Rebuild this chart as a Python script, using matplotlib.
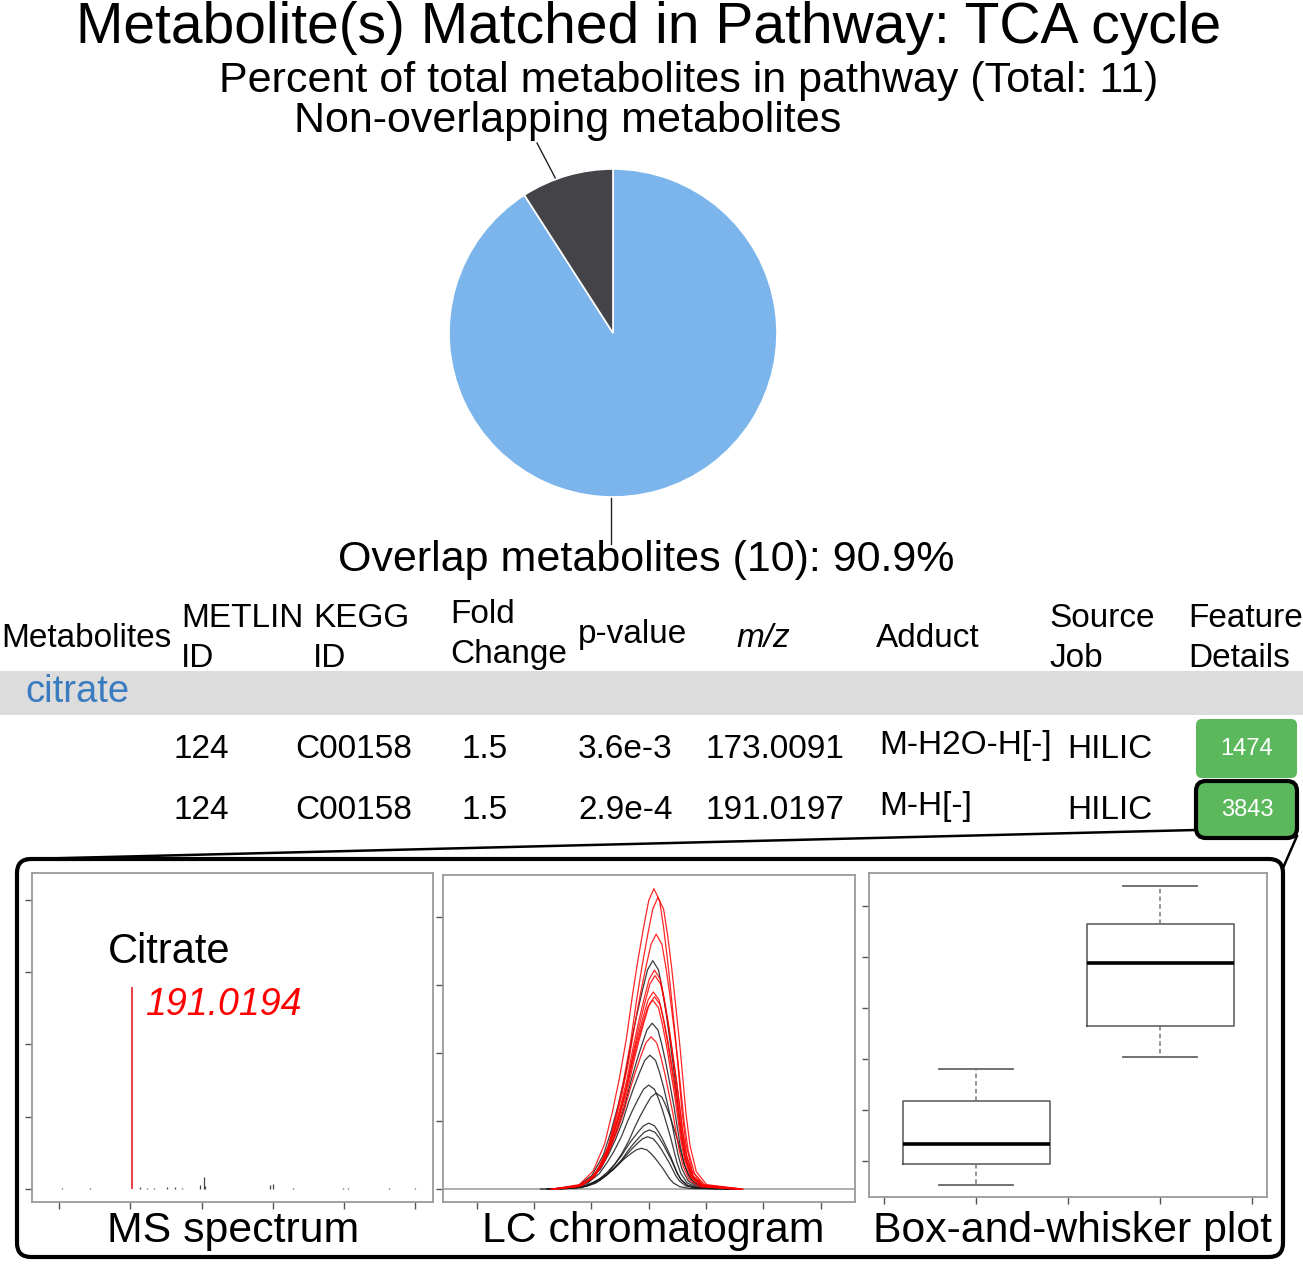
import matplotlib
matplotlib.use('Agg')
import matplotlib.pyplot as plt
from matplotlib.patches import FancyBboxPatch, Rectangle
import numpy as np

plt.rcParams['font.family'] = ['Liberation Sans', 'DejaVu Sans']

W, H = 1303, 1265

# pie: overlap vs non-overlapping metabolites
pie_counts = [10, 1]
pie_colors = ['#7cb5ec', '#434348']
pathway = 'TCA cycle'

# table
header_labels = ['Metabolites', 'METLIN\nID', 'KEGG\nID', 'Fold\nChange', 'p-value',
                 'm/z', 'Adduct', 'Source\nJob', 'Feature\nDetails']
metabolite_name = 'citrate'
metlin_ids = ['124', '124']
kegg_ids = ['C00158', 'C00158']
fold_changes = ['1.5', '1.5']
p_values = ['3.6e-3', '2.9e-4']
mz_values = ['173.0091', '191.0197']
adducts = ['M-H2O-H[-]', 'M-H[-]']
source_jobs = ['HILIC', 'HILIC']
feature_ids = ['1474', '3843']
selected_feature = 1

# MS spectrum (arbitrary axis units)
ms_peak_x = 1.03
ms_peak_h = 2.80
ms_peak_label = '191.0194'
ms_noise_x = [0.04, 0.44, 1.14, 1.23, 1.33, 1.51, 1.63, 1.72, 1.98, 2.03, 2.05,
              2.96, 3.01, 3.28, 3.99, 4.06, 4.63, 5.0]
ms_noise_h = [0.02, 0.02, 0.03, 0.02, 0.02, 0.03, 0.03, 0.02, 0.06, 0.16, 0.04,
              0.05, 0.07, 0.02, 0.02, 0.02, 0.02, 0.02]

# LC chromatogram: peak profile, plus each trace's apex
lc_offsets = [-1.76, -1.30, -1.06, -0.86, -0.72, -0.60, -0.48, -0.37, -0.28, -0.18, -0.09,
              0.0, 0.10, 0.17, 0.24, 0.30, 0.38, 0.44, 0.49, 0.56, 0.67, 0.85, 1.49]
lc_rel = [0.0, 0.015, 0.06, 0.15, 0.26, 0.37, 0.5, 0.65, 0.76, 0.87, 0.96,
          1.0, 0.96, 0.87, 0.76, 0.65, 0.5, 0.37, 0.26, 0.15, 0.06, 0.015, 0.0]
lc_red_heights = [4.42, 4.29, 3.75, 3.22, 3.14, 2.90, 2.83, 2.78, 2.24]
lc_red_centers = [3.09, 3.16, 3.13, 3.10, 3.11, 3.08, 3.10, 3.07, 3.04]
lc_black_heights = [3.36, 2.44, 1.97, 1.53, 1.41, 0.97, 0.87, 0.77, 0.60]
lc_black_centers = [3.07, 3.06, 3.02, 3.00, 3.13, 3.00, 3.01, 2.98, 2.87]

# box-and-whisker
box_whislo = [0.53, 3.04]
box_q1 = [0.94, 3.65]
box_med = [1.33, 4.89]
box_q3 = [2.17, 5.64]
box_whishi = [2.80, 6.40]

fig = plt.figure(figsize=(W / 100, H / 100), dpi=100)


def add_px_axes(x0, y0, x1, y1):
    return fig.add_axes([x0 / W, 1 - y1 / H, (x1 - x0) / W, (y1 - y0) / H])


# overlay in pixel coordinates for text and frames
ov = fig.add_axes([0, 0, 1, 1])
ov.set_xlim(0, W)
ov.set_ylim(H, 0)
ov.axis('off')

ov.text(649, 43, 'Metabolite(s) Matched in Pathway: ' + pathway, fontsize=41,
        ha='center', va='baseline')
ov.text(689, 92, 'Percent of total metabolites in pathway (Total: %d)' % sum(pie_counts),
        fontsize=31, ha='center', va='baseline')

# pie
cx, cy, r = 613, 333, 164
pie_ax = add_px_axes(cx - r, cy - r, cx + r, cy + r)
wedges, _ = pie_ax.pie(pie_counts, colors=pie_colors, startangle=90, counterclock=False,
                       wedgeprops=dict(edgecolor='white', linewidth=1.2))
pie_ax.set_xlim(-1, 1)
pie_ax.set_ylim(-1, 1)

w = wedges[1]
mid = np.deg2rad((w.theta1 + w.theta2) / 2 + 4)
ov.plot([cx + r * np.cos(mid), 537], [cy - r * np.sin(mid), 143], color='#222', lw=1)
ov.text(568, 132, 'Non-overlapping metabolites', fontsize=31, ha='center', va='baseline')
ov.plot([cx - 2, cx - 2], [cy + r, 544], color='#222', lw=1)
pct = 100 * pie_counts[0] / sum(pie_counts)
ov.text(646, 571, 'Overlap metabolites (%d): %.1f%%' % (pie_counts[0], pct),
        fontsize=31, ha='center', va='baseline')

# table header
head_x = [1, 181, 313, 450, 578, 736, 876, 1049, 1188]
for lab, x in zip(header_labels, head_x):
    lines = lab.split('\n')
    style = 'italic' if lab == 'm/z' else 'normal'
    if len(lines) == 1:
        yb = 643 if lab == 'p-value' else 647
        ov.text(x, yb, lines[0], fontsize=24, va='baseline', fontstyle=style)
    else:
        top = 623 if lab.startswith('Fold') else 627
        ov.text(x, top, lines[0], fontsize=24, va='baseline')
        ov.text(x, top + 40, lines[1], fontsize=24, va='baseline')

ov.add_patch(Rectangle((0, 671), W, 44, facecolor='#dcdcdc', lw=0))
ov.text(25, 702, metabolite_name, fontsize=27.5, color='#3a7cbf', va='baseline')

# table rows
row_base = [758, 819]
col_x = [174, 295, 461, 578, 706]
for i in range(len(metlin_ids)):
    vals = [metlin_ids[i], kegg_ids[i], fold_changes[i], p_values[i], mz_values[i]]
    for x, v in zip(col_x, vals):
        ov.text(x, row_base[i], v, fontsize=24, va='baseline')
    ov.text(879, row_base[i] - 4, adducts[i], fontsize=24, va='baseline')
    ov.text(1067, row_base[i], source_jobs[i], fontsize=24, va='baseline')
    by = row_base[i] - 39
    if i == selected_feature:
        btn = FancyBboxPatch((1196, by + 1), 101, 57, boxstyle='round,pad=0,rounding_size=10',
                             facecolor='#5cb85c', edgecolor='black', lw=3)
    else:
        btn = FancyBboxPatch((1196, by), 101, 59, boxstyle='round,pad=0,rounding_size=6',
                             facecolor='#5cb85c', edgecolor='none')
    ov.add_patch(btn)
    ov.text(1247, by + 30, feature_ids[i], fontsize=17, color='white', ha='center', va='center')

# zoom-out frame
ov.plot([1196, 26], [830, 859], color='black', lw=1.8)
ov.plot([1297, 1283], [836, 868], color='black', lw=1.8)
ov.add_patch(FancyBboxPatch((17, 859), 1266, 398, boxstyle='round,pad=0,rounding_size=14',
                            facecolor='none', edgecolor='black', lw=3))
ov.text(107, 1242, 'MS spectrum', fontsize=30.8, va='baseline')
ov.text(482, 1242, 'LC chromatogram', fontsize=30.8, va='baseline')
ov.text(873, 1242, 'Box-and-whisker plot', fontsize=30.8, va='baseline')


def style_panel(ax, xticks, yticks, xlim, ylim):
    ax.set_xlim(xlim)
    ax.set_ylim(ylim)
    ax.set_xticks(xticks)
    ax.set_yticks(yticks)
    ax.set_xticklabels([])
    ax.set_yticklabels([])
    for s in ax.spines.values():
        s.set_color('#9a9a9a')
        s.set_linewidth(1.3)
    ax.tick_params(length=5, width=1, color='#555555', direction='out')


# MS spectrum panel
ms = add_px_axes(32, 873, 433, 1202)
ms.vlines(ms_noise_x, 0, ms_noise_h, color='#444444', lw=0.9)
ms.vlines(ms_peak_x, 0, ms_peak_h, color='#e8464a', lw=1.5)
ms.text(0.68, 3.13, 'Citrate', fontsize=30, va='baseline')
ms.text(ms_peak_x + 0.18, 2.41, ms_peak_label, fontsize=27, color='red',
        fontstyle='italic', va='baseline')
style_panel(ms, range(6), range(5), (-0.38, 5.25), (-0.18, 4.37))

# LC chromatogram panel
lc = add_px_axes(443, 875, 855, 1202)
lc.axhline(0, color='#a0a0a0', lw=1.2)
offs = np.array(lc_offsets)
rel = np.array(lc_rel)
for h, c in zip(lc_black_heights, lc_black_centers):
    lc.plot(c + offs, h * rel, color='#1a1a1a', lw=0.9, alpha=0.85)
for h, c in zip(lc_red_heights, lc_red_centers):
    lc.plot(c + offs, h * rel, color='#ff0000', lw=0.9, alpha=0.85)
style_panel(lc, range(7), range(5), (-0.59, 6.6), (-0.19, 4.62))

# box-and-whisker panel
bx = add_px_axes(869, 873, 1267, 1197)
stats = []
for lo, q1, md, q3, hi in zip(box_whislo, box_q1, box_med, box_q3, box_whishi):
    stats.append(dict(whislo=lo, q1=q1, med=md, q3=q3, whishi=hi, fliers=[]))
bx.bxp(stats, positions=[1, 2], widths=0.8, capwidths=0.4, showfliers=False,
       manage_ticks=False,
       boxprops=dict(color='#555555', lw=1.1),
       whiskerprops=dict(color='#777777', lw=1.1, linestyle=(0, (3, 2))),
       capprops=dict(color='#666666', lw=1.3),
       medianprops=dict(color='black', lw=2.6))
style_panel(bx, [0.5, 1, 1.5, 2, 2.5], range(1, 7), (0.418, 2.58), (0.294, 6.65))

fig.savefig('out.png', dpi=100)
